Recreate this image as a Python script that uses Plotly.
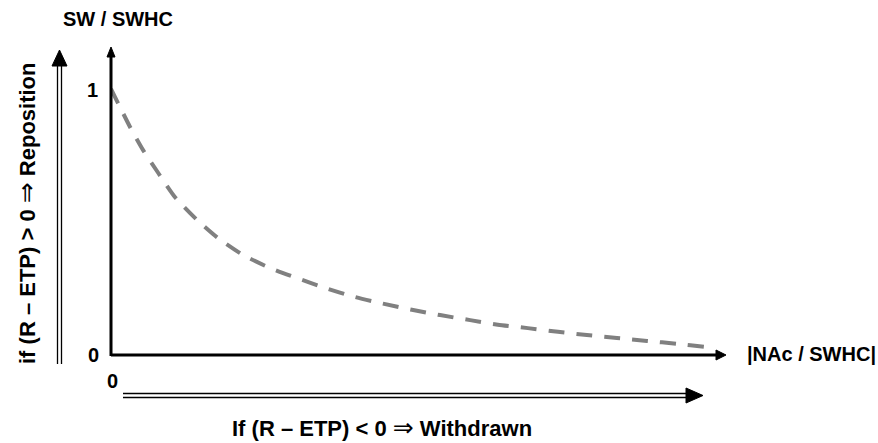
import plotly.graph_objects as go

# ---- data ----
x_vals = [0.0, 0.031, 0.052, 0.077, 0.104, 0.140, 0.174, 0.215, 0.259, 0.303,
          0.349, 0.394, 0.443, 0.490, 0.536, 0.585, 0.630, 0.679, 0.728, 0.775,
          0.824, 0.873, 0.922, 0.967, 0.982]
y_vals = [1.0, 0.857, 0.771, 0.684, 0.594, 0.508, 0.440, 0.376, 0.327, 0.289,
          0.252, 0.220, 0.193, 0.170, 0.150, 0.131, 0.114, 0.101, 0.087, 0.075,
          0.064, 0.053, 0.042, 0.031, 0.028]
y_tick_labels = ["0", "1"]
x_tick_label = "0"
y_title = "SW / SWHC"
x_title = "|NAc / SWHC|"
ARROW = "<span style='font-family:DejaVu Sans;font-size:25px;font-weight:normal'>\u21d2</span>"
left_label = f"if (R \u2013 ETP) > 0 {ARROW} Reposition"
bottom_label = f"If (R \u2013 ETP) < 0 {ARROW} Withdrawn"

W, H = 878, 443
L, R, T, B = 111, 153, 49, 88
PW, PH = W - L - R, H - T - B
YMAX = 1.15

FONT = "Arial, 'Liberation Sans', sans-serif"
FS = 20
FS_BIG = 22


def px(xp):
    return (xp - L) / PW


def py(yp):
    return (H - B - yp) / PH


fig = go.Figure()
fig.add_trace(go.Scatter(
    x=x_vals, y=y_vals, mode="lines",
    line=dict(color="#808080", width=4, dash="16px,12px", shape="spline", smoothing=0.6),
    hoverinfo="skip", showlegend=False,
))

shapes = []
# main axes
shapes.append(dict(type="line", xref="paper", yref="paper", x0=px(111), y0=py(355), x1=px(718), y1=py(355),
                   line=dict(color="black", width=3)))
shapes.append(dict(type="line", xref="paper", yref="paper", x0=px(111), y0=py(356), x1=px(111), y1=py(55),
                   line=dict(color="black", width=3)))
# arrowheads on main axes
shapes.append(dict(type="path", xref="paper", yref="paper",
                   path=f"M {px(716)},{py(350)} L {px(726)},{py(355)} L {px(716)},{py(360)} Z",
                   fillcolor="black", line=dict(color="black", width=1)))
shapes.append(dict(type="path", xref="paper", yref="paper",
                   path=f"M {px(107)},{py(57)} L {px(111)},{py(47)} L {px(115)},{py(57)} Z",
                   fillcolor="black", line=dict(color="black", width=1)))
# left double arrow
for xx in (57.5, 61.5):
    shapes.append(dict(type="line", xref="paper", yref="paper", x0=px(xx), y0=py(364), x1=px(xx), y1=py(66),
                       line=dict(color="black", width=1.3)))
shapes.append(dict(type="path", xref="paper", yref="paper",
                   path=f"M {px(52)},{py(66)} L {px(59.5)},{py(50)} L {px(67)},{py(66)} Z",
                   fillcolor="black", line=dict(color="black", width=1)))
# bottom double arrow
for yy in (393.5, 397.5):
    shapes.append(dict(type="line", xref="paper", yref="paper", x0=px(123), y0=py(yy), x1=px(687), y1=py(yy),
                       line=dict(color="black", width=1.3)))
shapes.append(dict(type="path", xref="paper", yref="paper",
                   path=f"M {px(686)},{py(388)} L {px(703)},{py(395.5)} L {px(686)},{py(403)} Z",
                   fillcolor="black", line=dict(color="black", width=1)))


def txt(text, x, y, angle=0, size=FS):
    return dict(text=f"<b>{text}</b>", x=px(x), y=py(y), xref="paper", yref="paper",
                showarrow=False, xanchor="center", yanchor="middle", textangle=angle,
                font=dict(family=FONT, size=size, color="black"))


annotations = [
    txt(y_title, 118, 19),
    txt(y_tick_labels[1], 92, 90),
    txt(y_tick_labels[0], 93, 355),
    txt(x_tick_label, 112, 381),
    txt(x_title, 811, 354),
    txt(bottom_label, 382, 427, size=FS_BIG),
    txt(left_label, 26, 213, angle=-90, size=FS_BIG),
]

fig.update_layout(
    width=W, height=H,
    margin=dict(l=L, r=R, t=T, b=B),
    paper_bgcolor="white", plot_bgcolor="white",
    xaxis=dict(range=[0, 1], visible=False),
    yaxis=dict(range=[0, YMAX], visible=False),
    shapes=shapes, annotations=annotations,
    showlegend=False,
)

fig.write_html("out.html", config={"displayModeBar": False},
               post_script="document.body.style.margin='0';document.body.style.padding='0';")
